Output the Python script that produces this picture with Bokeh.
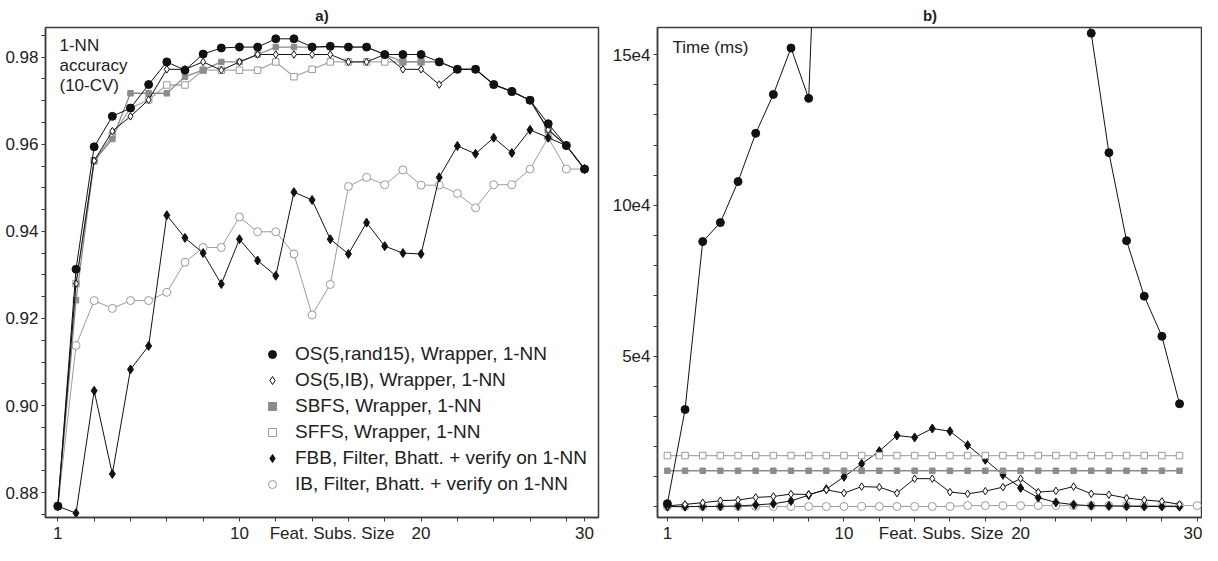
from bokeh.plotting import figure
from bokeh.layouts import row
from bokeh.models import Range1d, FixedTicker, Legend, LegendItem, Label
from bokeh.embed import file_html
from bokeh.resources import INLINE

FONT = "Liberation Sans"

# ---------------- data ----------------
subset_size = [1, 2, 3, 4, 5, 6, 7, 8, 9, 10, 11, 12, 13, 14, 15,
               16, 17, 18, 19, 20, 21, 22, 23, 24, 25, 26, 27, 28, 29, 30]
subset_size_ib_time = subset_size + [31]

# a) 1-NN accuracy (10-CV)
acc_os_rand15 = [0.8769, 0.9313, 0.9594, 0.9664, 0.9683, 0.9737, 0.9789, 0.9770, 0.9807, 0.9821,
                 0.9823, 0.9823, 0.9842, 0.9842, 0.9823, 0.9825, 0.9823, 0.9823, 0.9806, 0.9806,
                 0.9806, 0.9789, 0.9772, 0.9772, 0.9737, 0.9721, 0.9701, 0.9647, 0.9597, 0.9543]
acc_os_ib = [0.8769, 0.9280, 0.9562, 0.9630, 0.9664, 0.9702, 0.9772, 0.9772, 0.9789, 0.9770,
             0.9789, 0.9806, 0.9806, 0.9806, 0.9806, 0.9806, 0.9789, 0.9789, 0.9806, 0.9772,
             0.9772, 0.9737, 0.9772, 0.9772, 0.9737, 0.9721, 0.9701, 0.9633, 0.9597, 0.9543]
acc_sbfs = [0.8769, 0.9242, 0.9562, 0.9612, 0.9717, 0.9717, 0.9717, 0.9755, 0.9770, 0.9789,
            0.9789, 0.9806, 0.9823, 0.9823, 0.9823, 0.9823, 0.9823, 0.9823, 0.9806, 0.9789,
            0.9789, 0.9789, 0.9772, 0.9772, 0.9737, 0.9721, 0.9701, 0.9633, 0.9597, 0.9543]
acc_sffs = [0.8769, 0.9280, 0.9562, 0.9620, 0.9683, 0.9702, 0.9736, 0.9736, 0.9770, 0.9770,
            0.9770, 0.9770, 0.9789, 0.9755, 0.9772, 0.9789, 0.9789, 0.9789, 0.9789, 0.9789,
            0.9789, 0.9789, 0.9772, 0.9772, 0.9737, 0.9721, 0.9701, 0.9633, 0.9597, 0.9543]
acc_fbb = [0.8769, 0.8753, 0.9034, 0.8843, 0.9083, 0.9137, 0.9437, 0.9385, 0.9350, 0.9279,
           0.9382, 0.9333, 0.9298, 0.9490, 0.9472, 0.9382, 0.9348, 0.9420, 0.9366, 0.9350,
           0.9348, 0.9524, 0.9596, 0.9578, 0.9615, 0.9580, 0.9633, 0.9615, 0.9597, 0.9543]
acc_ib = [0.8769, 0.9138, 0.9241, 0.9223, 0.9241, 0.9241, 0.9260, 0.9329, 0.9363, 0.9363,
          0.9433, 0.9399, 0.9399, 0.9348, 0.9208, 0.9278, 0.9503, 0.9524, 0.9507, 0.9541,
          0.9506, 0.9506, 0.9487, 0.9454, 0.9507, 0.9507, 0.9543, 0.9615, 0.9543, 0.9543]

# b) Time (ms)
time_os_rand15 = [1100, 32300, 88000, 94300, 107900, 123900, 136800, 152200, 135500, 285000,
                  420000, 560000, 680000, 770000, 820000, 830000, 800000, 740000, 650000, 540000,
                  430000, 330000, 250000, 179000, 157100, 117500, 88300, 69900, 56600, 34200]
time_os_ib = [330, 850, 1410, 2070, 2300, 3150, 3470, 4260, 4130, 5670,
              4590, 6750, 6560, 4590, 9380, 9380, 4920, 4360, 5250, 6560,
              9380, 4920, 5340, 6750, 4360, 4070, 2950, 2300, 1840, 850]
time_sbfs = [12000, 12000, 12000, 12000, 12000, 12000, 12000, 12000, 12000, 12000,
             12000, 12000, 12000, 12000, 12000, 12000, 12000, 12000, 12000, 12000,
             12000, 12000, 12000, 12000, 12000, 12000, 12000, 12000, 12000, 12000]
time_sffs = [17050, 17050, 17050, 17050, 17050, 17050, 17050, 17050, 17050, 17050,
             17050, 17050, 17050, 17050, 17050, 17050, 17050, 17050, 17050, 17050,
             17050, 17050, 17050, 17050, 17050, 17050, 17050, 17050, 17050, 17050]
time_fbb = [100, 100, 150, 200, 330, 660, 1080, 1970, 3930, 5900,
            10000, 14300, 18500, 23700, 23050, 26000, 25100, 20500, 15650, 10650,
            6300, 3100, 1500, 750, 400, 330, 200, 150, 150, 100]
time_ib = [150, 150, 150, 150, 150, 150, 150, 150, 150, 150,
           150, 150, 150, 150, 150, 150, 150, 450, 450, 450,
           450, 450, 450, 450, 450, 450, 450, 450, 450, 450, 450]

legend_labels = ["OS(5,rand15), Wrapper, 1-NN",
                 "OS(5,IB), Wrapper, 1-NN",
                 "SBFS, Wrapper, 1-NN",
                 "SFFS, Wrapper, 1-NN",
                 "FBB, Filter, Bhatt. + verify on 1-NN",
                 "IB, Filter, Bhatt. + verify on 1-NN"]

x_axis_name = "Feat. Subs. Size"
x_tick_text = ["1", "10", x_axis_name, "20", "30"]
x_tick_pos_a = [0, 10, 15.1, 20, 29]
x_tick_pos_b = [0, 10, 15.5, 20, 30]
x_mark_pos_a = [0, 2, 4, 6, 8, 10, 12, 14, 16, 18, 20, 22, 24, 26, 28, 29]
x_mark_pos_b = [0, 2, 4, 6, 8, 10, 12, 14, 16, 18, 20, 22, 24, 26, 28, 30]

# positions on the axis (first subset size sits at 0)
xs = [s - 1 for s in subset_size]
xs_ib_t = [s - 1 for s in subset_size_ib_time]

# ---------------- styles ----------------
TXT = "#222222"
FRAME = "#3c3c3c"
TICK_FS = "17px"
styles = [
    dict(line_color="#111111", marker="circle", size=8, fill_color="#111111", mline="#111111", lw=1.0),
    dict(line_color="#111111", marker="diamond", size=7.5, fill_color="white", mline="#111111", lw=1.0),
    dict(line_color="#8c8c8c", marker="square", size=5.5, fill_color="#8c8c8c", mline="#8c8c8c", lw=1.3),
    dict(line_color="#ababab", marker="square", size=6.5, fill_color="white", mline="#9a9a9a", lw=1.3),
    dict(line_color="#111111", marker="diamond", size=9, fill_color="#111111", mline="#111111", lw=1.0),
    dict(line_color="#9c9c9c", marker="circle", size=8, fill_color="white", mline="#9a9a9a", lw=1.0),
]


def style_axes(p, xticks, xmarks, yticks, yminor, yover):
    p.grid.visible = False
    p.outline_line_color = FRAME
    p.outline_line_width = 1.5
    for ax in (p.xaxis[0], p.yaxis[0]):
        ax.axis_line_color = FRAME
        ax.axis_line_width = 1.5
        ax.major_tick_in = 0
        ax.major_tick_out = 4
        ax.minor_tick_in = 0
        ax.minor_tick_out = 4
        ax.major_tick_line_color = FRAME
        ax.minor_tick_line_color = FRAME
        ax.major_label_text_font = FONT
        ax.major_label_text_font_size = TICK_FS
        ax.major_label_text_color = TXT
    # x axis: labels on the major ticks, every tick mark drawn as a minor tick
    p.xaxis[0].ticker = FixedTicker(ticks=xticks, minor_ticks=xmarks)
    p.xaxis[0].major_label_overrides = {t: s for t, s in zip(xticks, x_tick_text)}
    p.xaxis[0].major_tick_line_color = None
    p.xaxis[0].major_label_standoff = 2
    p.yaxis[0].ticker = FixedTicker(ticks=yticks, minor_ticks=yminor)
    p.yaxis[0].major_label_standoff = 3
    if yover:
        p.yaxis[0].major_label_overrides = yover
    p.title.text_font = FONT
    p.title.text_font_size = "15px"
    p.title.text_font_style = "bold"
    p.title.align = "center"
    p.title.text_color = TXT
    p.title.standoff = 8


def add_series(p, x, y, st):
    p.line(x, y, line_color=st["line_color"], line_width=st["lw"])
    r = p.scatter(x, y, marker=st["marker"], size=st["size"], fill_color=st["fill_color"],
                  line_color=st["mline"], line_width=1.0)
    return r


H = 545
BOTTOM = 26
FRAME_BOTTOM_PAGE = 8 + H - BOTTOM   # page y of the frame bottom


def from_bottom(page_y):
    return FRAME_BOTTOM_PAGE - page_y


# ---------------- a) ----------------
pa = figure(width=606, height=H, title="a)",
            x_range=Range1d(-0.68, 29.77), y_range=Range1d(0.8743, 0.9868),
            output_backend="svg", toolbar_location=None,
            min_border_left=45, min_border_right=8, min_border_top=26, min_border_bottom=BOTTOM)
style_axes(pa, x_tick_pos_a, x_mark_pos_a,
           [0.88, 0.90, 0.92, 0.94, 0.96, 0.98],
           [0.875, 0.885, 0.89, 0.895, 0.905, 0.91, 0.915, 0.925, 0.93, 0.935, 0.945, 0.95,
            0.955, 0.965, 0.97, 0.975, 0.985],
           {0.88: "0.88", 0.9: "0.90", 0.92: "0.92", 0.94: "0.94", 0.96: "0.96", 0.98: "0.98"})

acc_series = [acc_os_rand15, acc_os_ib, acc_sbfs, acc_sffs, acc_fbb, acc_ib]
order = [5, 4, 3, 2, 1, 0]
rend_a = {}
for i in order:
    rend_a[i] = add_series(pa, xs, acc_series[i], styles[i])

legend = Legend(items=[LegendItem(label=legend_labels[i], renderers=[rend_a[i]]) for i in range(6)],
                location=(217, from_bottom(505)), padding=0, margin=0, spacing=4,
                label_height=22, glyph_height=22, glyph_width=20, label_standoff=13,
                border_line_alpha=0, background_fill_alpha=0,
                label_text_font=FONT, label_text_font_size="19px", label_text_color=TXT)
pa.add_layout(legend)

for txt, yy in [("1-NN", 55), ("accuracy", 75), ("(10-CV)", 95)]:
    pa.add_layout(Label(x=14, y=from_bottom(yy), x_units="screen", y_units="screen", text=txt,
                        text_baseline="middle", text_font=FONT, text_font_size="17px",
                        text_color=TXT))

# ---------------- b) ----------------
pb = figure(width=596, height=H, title="b)",
            x_range=Range1d(-0.56, 30.3), y_range=Range1d(-3500, 159000),
            output_backend="svg", toolbar_location=None,
            min_border_left=51, min_border_right=0, min_border_top=26, min_border_bottom=BOTTOM)
style_axes(pb, x_tick_pos_b, x_mark_pos_b,
           [0, 50000, 100000, 150000],
           [10000, 20000, 30000, 40000, 60000, 70000, 80000, 90000,
            110000, 120000, 130000, 140000],
           {0: "", 50000: "5e4", 100000: "10e4", 150000: "15e4"})

time_series = [time_os_rand15, time_os_ib, time_sbfs, time_sffs, time_fbb, time_ib]
for i in order:
    xx = xs_ib_t if i == 5 else xs
    add_series(pb, xx, time_series[i], styles[i])

pb.add_layout(Label(x=15, y=from_bottom(57), x_units="screen", y_units="screen", text="Time (ms)",
                    text_baseline="middle", text_font=FONT, text_font_size="17px",
                    text_color=TXT))

layout = row(pa, pb)
open("out.html", "w").write(file_html(layout, INLINE))
